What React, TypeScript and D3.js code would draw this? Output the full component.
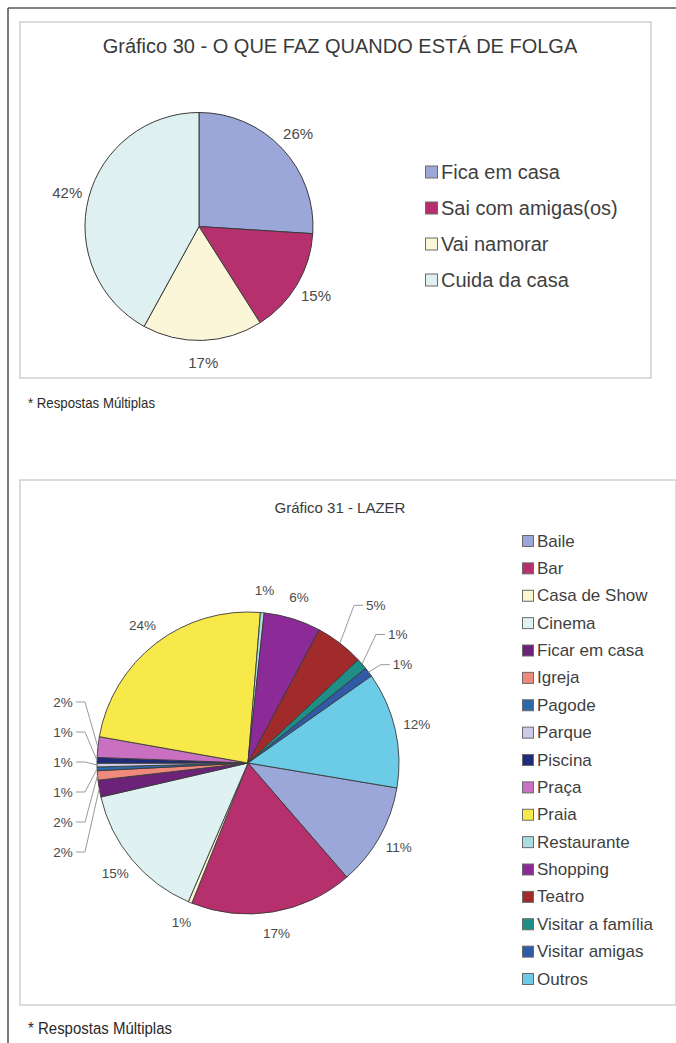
import React from "react";
import * as d3 from "d3";

// ---------- Gráfico 30 ----------
const folgaTitle = "Gráfico 30 - O QUE FAZ QUANDO ESTÁ DE FOLGA";
const folgaCategories = ["Fica em casa", "Sai com amigas(os)", "Vai namorar", "Cuida da casa"];
const folgaValues = [26, 15, 17, 42];
const folgaLabels = ["26%", "15%", "17%", "42%"];
const folgaColors = ["#9ba7d9", "#b7306e", "#fbf6d8", "#dff0f0"];

// ---------- Gráfico 31 ----------
const lazerTitle = "Gráfico 31 - LAZER";
const lazerCategories = [
  "Baile", "Bar", "Casa de Show", "Cinema", "Ficar em casa", "Igreja", "Pagode",
  "Parque", "Piscina", "Praça", "Praia", "Restaurante", "Shopping", "Teatro",
  "Visitar a família", "Visitar amigas", "Outros",
];
// slice shares
const lazerValues = [11, 17.4, 0.4, 14.9, 1.8, 1, 0.4, 0.4, 0.6, 2.2, 23.5, 0.4, 6.1, 5.2, 1.2, 1, 12.4];
// printed percentage labels
const lazerLabels = ["11%", "17%", "1%", "15%", "2%", "2%", "1%", "1%", "1%", "2%", "24%", "1%", "6%", "5%", "1%", "1%", "12%"];
const lazerColors = [
  "#9ba7d9", "#b7306e", "#fbf6d0", "#e0f1f1", "#6b2278", "#f08a7c", "#2b6aa8",
  "#cdcbe8", "#1f2a78", "#c970c0", "#f8e94a", "#a9dde2", "#8c2b97", "#a12a2a",
  "#1d8f87", "#2f5aa6", "#6ccbe6",
];
const lazerLeftStack = [4, 5, 6, 7, 8, 9];
const lazerRightLeaders = [13, 14, 15];

const footnote = "* Respostas Múltiplas";

const FONT = "'Liberation Sans', Arial, Helvetica, sans-serif";
const deg = Math.PI / 180;

function polar(cx: number, cy: number, r: number, a: number): [number, number] {
  return [cx + r * Math.sin(a), cy - r * Math.cos(a)];
}

function Chart30() {
  const cx = 199, cy = 226.5, r = 114;
  const pie = d3.pie<number>().sort(null).value((d) => d);
  const arcs = pie(folgaValues);
  const arc = d3.arc<d3.PieArcDatum<number>>().innerRadius(0).outerRadius(r);
  const labelArc = d3.arc<d3.PieArcDatum<number>>().innerRadius(r + 22).outerRadius(r + 22);
  const legendY = d3.scalePoint<string>().domain(folgaCategories).range([172, 280]);
  return (
    <g>
      <rect x={20} y={22} width={631} height={356} fill="#fff" stroke="#cfcfcf" strokeWidth={1.5} />
      <text x={340} y={53} textAnchor="middle" fontFamily={FONT} fontSize={20} fill="#3a3a3a">{folgaTitle}</text>
      <g transform={`translate(${cx},${cy})`}>
        {arcs.map((a, i) => (
          <path key={i} d={arc(a) || ""} fill={folgaColors[i]} stroke="#3a3a3a" strokeWidth={1} />
        ))}
        {arcs.map((a, i) => {
          const [x, y] = labelArc.centroid(a);
          return (
            <text key={"l" + i} x={x} y={y} textAnchor="middle" dominantBaseline="central"
              fontFamily={FONT} fontSize={15} fill="#4a4a4a">{folgaLabels[i]}</text>
          );
        })}
      </g>
      {folgaCategories.map((c, i) => {
        const y = legendY(c)!;
        return (
          <g key={c}>
            <rect x={425.5} y={y - 6} width={12} height={12} fill={folgaColors[i]} stroke="#6a6a6a" strokeWidth={1} />
            <text x={441} y={y} dominantBaseline="central" fontFamily={FONT} fontSize={20} fill="#3f3f3f">{c}</text>
          </g>
        );
      })}
      <text x={28} y={408} fontFamily={FONT} fontSize={15} textLength={127} lengthAdjust="spacingAndGlyphs" fill="#2a2a2a">{footnote}</text>
    </g>
  );
}

function Chart31() {
  const cx = 248, cy = 763, r = 151;
  const start = 99.5 * deg;
  const pie = d3.pie<number>().sort(null).value((d) => d).startAngle(start).endAngle(start + 2 * Math.PI);
  const arcs = pie(lazerValues);
  const arc = d3.arc<d3.PieArcDatum<number>>().innerRadius(0).outerRadius(r);
  const labelArc = d3.arc<d3.PieArcDatum<number>>().innerRadius(r + 22).outerRadius(r + 22);
  const legendY = d3.scalePoint<string>().domain(lazerCategories).range([541, 979]);
  const mid = (a: d3.PieArcDatum<number>) => (a.startAngle + a.endAngle) / 2;

  const labels = arcs.map((a, i) => {
    const m = mid(a);
    const stackIdx = lazerLeftStack.indexOf(i);
    const rightIdx = lazerRightLeaders.indexOf(i);
    if (stackIdx >= 0) {
      const ly = cy + 89 - 30 * stackIdx;
      const lx = cx - r - 34;
      const [ex, ey] = polar(cx, cy, r, m);
      const pts: [number, number][] = [[lx + 13, ly], [lx + 22, ly], [ex, ey]];
      return { text: lazerLabels[i], x: lx, y: ly, anchor: "middle", line: pts };
    }
    if (rightIdx >= 0) {
      const extra = [46, 39, 24][rightIdx];
      const dA = [-0.7, -1.6, 2.8][rightIdx] * deg;
      const [ex, ey] = polar(cx, cy, r, m);
      const [tx, ty] = polar(cx, cy, r + extra, m + dA);
      const pts: [number, number][] = [[ex, ey], [tx - 12, ty], [tx - 3, ty]];
      return { text: lazerLabels[i], x: tx, y: ty, anchor: "start", line: pts };
    }
    const [x, y] = labelArc.centroid(a);
    return { text: lazerLabels[i], x: cx + x, y: cy + y, anchor: "middle", line: null as null | [number, number][] };
  });

  return (
    <g>
      <rect x={20} y={480} width={656} height={525} fill="#fff" stroke="#cfcfcf" strokeWidth={1.5} />
      <text x={340} y={513} textAnchor="middle" fontFamily={FONT} fontSize={15} fill="#3a3a3a">{lazerTitle}</text>
      <g transform={`translate(${cx},${cy})`}>
        {arcs.map((a, i) => (
          <path key={i} d={arc(a) || ""} fill={lazerColors[i]} stroke="#3a3a3a" strokeWidth={0.9} />
        ))}
      </g>
      {labels.map((l, i) => (
        <g key={"lab" + i}>
          {l.line && (
            <polyline points={l.line.map((p) => p.join(",")).join(" ")} fill="none" stroke="#9a9a9a" strokeWidth={1} />
          )}
          <text x={l.x} y={l.y} textAnchor={l.anchor as any} dominantBaseline="central"
            fontFamily={FONT} fontSize={13.5} fill="#4a4a4a">{l.text}</text>
        </g>
      ))}
      {lazerCategories.map((c, i) => {
        const y = legendY(c)!;
        return (
          <g key={c}>
            <rect x={522.5} y={y - 5.5} width={11} height={11} fill={lazerColors[i]} stroke="#6a6a6a" strokeWidth={1} />
            <text x={537} y={y} dominantBaseline="central" fontFamily={FONT} fontSize={17} fill="#3f3f3f">{c}</text>
          </g>
        );
      })}
      <text x={28} y={1034} fontFamily={FONT} fontSize={16} textLength={144} lengthAdjust="spacingAndGlyphs" fill="#2a2a2a">{footnote}</text>
    </g>
  );
}

export default function App() {
  return (
    <svg width={676} height={1043} viewBox="0 0 676 1043"
      style={{ position: "absolute", left: 0, top: 0, background: "#fff" }}>
      <rect x={0} y={0} width={676} height={1043} fill="#fff" />
      <line x1={8} y1={8} x2={676} y2={8} stroke="#5a5a5a" strokeWidth={1.6} />
      <line x1={8} y1={8} x2={8} y2={1043} stroke="#5a5a5a" strokeWidth={1.6} />
      <Chart30 />
      <Chart31 />
    </svg>
  );
}
